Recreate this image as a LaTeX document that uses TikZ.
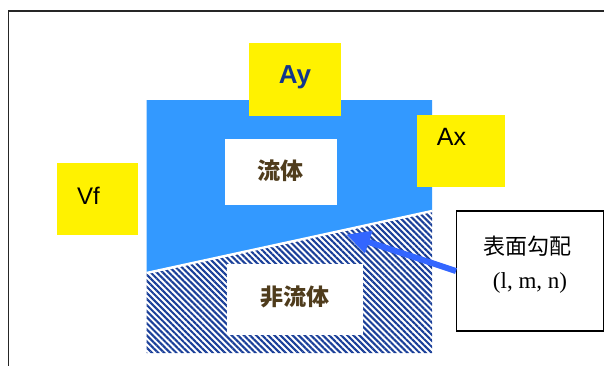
\documentclass[tikz,border=0pt]{standalone}
\usepackage{fontspec}
\setmainfont{Liberation Sans}
\newfontfamily\cjk{Noto Sans CJK JP}
\newfontfamily\serifl{Liberation Serif}
\usetikzlibrary{arrows.meta,patterns.meta}
\definecolor{fluidblue}{HTML}{3399FF}
\definecolor{hatchblue}{HTML}{1A3F99}
\definecolor{arrowblue}{HTML}{3366FF}
\definecolor{labelnavy}{HTML}{12358C}
\definecolor{brownish}{HTML}{4F3C1C}
\tikzset{
  ybox/.style={fill=yellow, draw=none, inner sep=0pt},
  wbox/.style={fill=white, draw=none, inner sep=0pt},
  gradbox/.style={fill=white, draw=black, line width=1.4pt, inner sep=0pt},
  lab/.style={inner sep=0pt, anchor=base},
  cjklab/.style={inner sep=0pt, font=\cjk\bfseries\fontsize{23}{25}\selectfont, text=brownish},
}
\begin{document}
\begin{tikzpicture}[x=1pt,y=-1pt]
\useasboundingbox (0,0) rectangle (604,365);
\clip (0,0) rectangle (604,365);
% outer frame
\draw[line width=1.9pt, black!85] (8.5,11) rectangle (650,420);
% fluid region
\fill[fluidblue] (146.5,100) -- (432,100) -- (432,211) -- (146.5,273) -- cycle;
% non-fluid hatched region
\fill[white] (146.5,273) -- (432,211) -- (432,353) -- (146.5,353) -- cycle;
\fill[pattern={Lines[angle=-45,distance=4.3pt,line width=2.1pt]}, pattern color=hatchblue]
  (146.5,273) -- (432,211) -- (432,353) -- (146.5,353) -- cycle;
\draw[white, line width=2.4pt] (146.5,273) -- (432,211);
% boxes
\node[ybox, minimum width=92pt, minimum height=72.5pt] (ay) at (295,79.3) {};
\node[lab, font=\bfseries\fontsize{26}{29}\selectfont, text=labelnavy] (aylab) at (295,83) {Ay};
\node[ybox, minimum width=88pt, minimum height=72pt] (ax) at (461,151) {};
\node[lab, font=\fontsize{25}{28}\selectfont] (axlab) at (451.5,145) {Ax};
\node[ybox, minimum width=80.7pt, minimum height=72.3pt] (vf) at (97.3,199) {};
\node[lab, font=\fontsize{24}{27}\selectfont] (vflab) at (88.5,204) {Vf};
\node[wbox, minimum width=111.7pt, minimum height=65.7pt] (fl) at (280.8,171.8) {};
\node[cjklab] (fllab) at (280.8,171) {流体};
\node[wbox, minimum width=136pt, minimum height=71.3pt] (nf) at (294.7,299.7) {};
\node[cjklab] (nflab) at (294.7,297) {非流体};
\node[gradbox, minimum width=146.6pt, minimum height=120pt] (grad) at (530,271) {};
\node[inner sep=0pt, font=\cjk\fontsize{22}{24}\selectfont] (gr1) at (527,246.5) {表面勾配};
\node[inner sep=0pt, font=\serifl\fontsize{23}{26}\selectfont] (gr2) at (530,283) {(l, m, n)};
% arrow
\coordinate (tip) at (346,234.5);
\draw[line width=6pt, arrowblue, -{Triangle[length=24pt,width=22pt]}] (grad.west) -- (tip);
\end{tikzpicture}
\end{document}
